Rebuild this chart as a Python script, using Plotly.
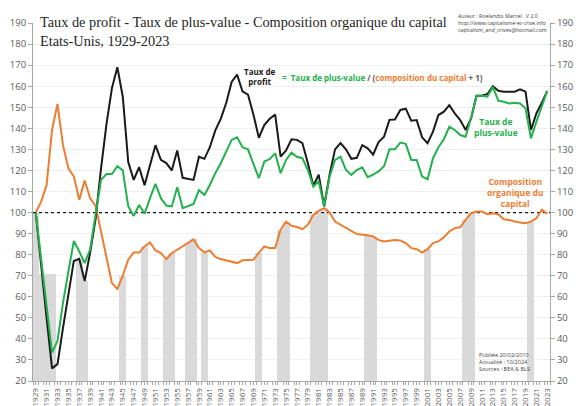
import plotly.graph_objects as go

years = list(range(1929, 2024))

# Taux de profit (indice 1929 = 100)
profit_rate = [
    100, 74, 50, 26, 28, 45, 62, 77, 78, 67.5,
    81, 97, 121, 142, 159, 169, 155, 124, 115.5, 121.5,
    113, 122, 132, 125, 123.5, 120, 129.5, 116.5, 116, 115.5,
    126.5, 125.5, 131, 139, 144.5, 152, 162, 165.5, 157.5, 156,
    146.5, 135.5, 141.5, 144.5, 146.5, 126.5, 129.5, 134.8, 134.5, 133,
    123.5, 112.7, 118, 103, 118, 130, 133, 130, 125.5, 126,
    132, 130.5, 127.5, 133.5, 136, 144, 144.2, 148.7, 149.3, 143.6,
    143.9, 135.7, 132.9, 138.4, 146.3, 147.9, 151, 147.1, 143.9, 139.2,
    144.7, 155.5, 155.5, 156.3, 160, 157.8, 157.4, 157.4, 157.4, 158.5,
    157.4, 139.2, 147.1, 152.1, 157.8,
]

# Taux de plus-value (indice 1929 = 100)
surplus_rate = [
    100, 77, 55, 33.5, 39, 57, 72, 86.5, 81.5, 76,
    82.5, 99, 115.5, 118.3, 118.3, 122, 120, 103, 98.4, 103.6,
    99.4, 106.8, 113.6, 106.8, 103.3, 102.9, 112, 102.1, 103, 104.1,
    110.6, 108.4, 113.1, 118.7, 123.4, 128.9, 134.5, 135.7, 131, 130,
    123.4, 116.3, 124.2, 125.4, 128.1, 118.7, 125, 128.4, 126.5, 125.8,
    120.2, 112.3, 115, 102.8, 117, 125, 126.5, 120.2, 117.9, 120.2,
    121.5, 116.8, 118, 119.5, 122, 130, 130, 133.2, 132.6, 125,
    125, 117.1, 115.8, 125.8, 131, 134.8, 140.8, 139.2, 136.8, 136,
    145, 155.5, 155.5, 155, 159.7, 153.1, 152.6, 151.8, 152.1, 151.8,
    149.5, 135.2, 143.1, 150.3, 157.8,
]

# Composition organique du capital (indice 1929 = 100)
organic_comp = [
    100, 105.2, 113.1, 139.2, 151.5, 132.1, 121, 117.1, 106, 115.2,
    106.8, 103.2, 91, 79, 66.5, 63.7, 70, 77.6, 81, 81,
    83.9, 85.8, 82, 80.7, 77.9, 80.7, 82.3, 83.9, 85.5, 87.2,
    83.1, 81, 82, 78.9, 77.9, 77.3, 76.6, 76, 77.3, 77.6,
    77.6, 80.8, 83.9, 83.1, 83.1, 91.8, 95.7, 93.7, 93.1, 92.1,
    94.2, 98.9, 100.8, 102.1, 100, 95.7, 94.2, 92.6, 91, 89.8,
    89.4, 89.2, 88.6, 87, 86.3, 86.7, 87, 86.7, 85.5, 83.1,
    82.6, 81, 82.6, 85.5, 86.3, 88.3, 91, 92.6, 93, 96.5,
    99.7, 100.5, 100.5, 99.2, 99.7, 99.2, 96.8, 96.5, 95.7, 95.3,
    94.9, 95.7, 97.3, 101.3, 99.4,
]

# Années de récession (barres grises)
recession_years = [1929, 1930, 1931, 1932, 1937, 1938, 1945, 1949, 1953, 1954,
                   1957, 1958, 1960, 1970, 1974, 1975, 1980, 1981, 1982, 1990,
                   1991, 2001, 2008, 2009, 2020]
recession_height = [100, 71, 71, 71, 78, 67.5, 70, 83.9, 77.9, 80.7,
                    85.5, 87.2, 81, 80.8, 91.8, 95.7, 98.9, 100.8, 102.1, 89.2,
                    88.6, 82.6, 96.5, 99.7, 95.7]

y_ticks = list(range(20, 191, 10))
x_ticks = list(range(1929, 2024, 2))

BLACK = "#1a1a1a"
GREEN = "#22b14c"
ORANGE = "#ed7d31"
GRAY_TXT = "#595959"

fig = go.Figure()

fig.add_trace(go.Bar(
    x=recession_years, y=recession_height, width=1.3,
    marker=dict(color="#d9d9d9", line=dict(width=0)),
    hoverinfo="skip", showlegend=False,
))

fig.add_trace(go.Scatter(
    x=[years[0] - 0.5, years[-1] + 0.5], y=[100, 100], mode="lines",
    line=dict(color=BLACK, width=1.3, dash="dot"), showlegend=False,
))

fig.add_trace(go.Scatter(x=years, y=organic_comp, mode="lines",
                         line=dict(color=ORANGE, width=2), showlegend=False))
fig.add_trace(go.Scatter(x=years, y=profit_rate, mode="lines",
                         line=dict(color=BLACK, width=2), showlegend=False))
fig.add_trace(go.Scatter(x=years, y=surplus_rate, mode="lines",
                         line=dict(color=GREEN, width=2), showlegend=False))

# invisible trace to carry the right-hand axis
fig.add_trace(go.Scatter(x=[years[0]], y=[100], yaxis="y2", mode="markers",
                         marker=dict(opacity=0), hoverinfo="skip", showlegend=False))

yaxis_common = dict(
    range=[20, 190], tickvals=y_ticks, ticks="outside", ticklen=4,
    tickcolor="#a6a6a6", showline=True, linecolor="#a6a6a6", linewidth=1,
    tickfont=dict(family="Open Sans", size=9.5, color=GRAY_TXT),
    zeroline=False,
)

fig.update_layout(
    width=576, height=406,
    margin=dict(l=33, r=26, t=23, b=24.5, autoexpand=False),
    paper_bgcolor="white", plot_bgcolor="white",
    bargap=0,
    xaxis=dict(
        range=[1928.5, 2023.5], tickvals=x_ticks, ticktext=[str(y) for y in x_ticks],
        tickangle=-90, ticks="outside", ticklen=3, tickcolor="#a6a6a6",
        showline=True, linecolor="#a6a6a6", showgrid=False, zeroline=False,
        tickfont=dict(family="Open Sans", size=8, color=GRAY_TXT),
        minor=dict(ticks="outside", ticklen=3, tickcolor="#a6a6a6", dtick=1, tick0=1928.5),
        automargin=False,
    ),
    yaxis=dict(**yaxis_common, showgrid=True, gridcolor="#efefef", gridwidth=1,
               automargin=False),
    yaxis2=dict(**yaxis_common, overlaying="y", side="right", showgrid=False,
                automargin=False),
)

fig.add_annotation(
    xref="paper", yref="paper", x=0.01, y=1.032, xanchor="left", yanchor="top",
    text="Taux de profit - Taux de plus-value - Composition organique du capital<br>Etats-Unis, 1929-2023",
    showarrow=False, align="left",
    font=dict(family="Liberation Serif", size=14.3, color="#262626"),
)

fig.add_annotation(
    xref="paper", yref="paper", x=0.818, y=1.036, xanchor="left", yanchor="top",
    text="Auteur : Roelandts Marcel   V 2.0<br>http://www.capitalisme-et-crise.info<br>capitalism_and_crises@hotmail.com",
    showarrow=False, align="left",
    font=dict(family="Open Sans", size=5.3, color="#404040"),
)

fig.add_annotation(
    x=1970.2, y=164.8, text="<b>Taux de<br>profit</b>", showarrow=False,
    font=dict(family="Open Sans", size=8, color=BLACK), align="center",
)
fig.add_annotation(
    x=1973.9, y=164.3, xanchor="left",
    text=("<b><span style='color:%s'>=  Taux de plus-value</span>"
          " <span style='color:#595959'>/ (</span>"
          "<span style='color:%s'>composition du capital</span>"
          " <span style='color:#595959'>+ 1)</span></b>") % (GREEN, ORANGE),
    showarrow=False, font=dict(family="Open Sans", size=8),
)
fig.add_annotation(
    x=2013.6, y=140.8, text="<b>Taux de<br>plus-value</b>", showarrow=False,
    font=dict(family="Open Sans", size=8.5, color=GREEN), align="center",
)
fig.add_annotation(
    x=2017.1, y=109.5, text="<b>Composition<br>organique du<br>capital</b>", showarrow=False,
    font=dict(family="Open Sans", size=8.5, color=ORANGE), align="center",
)
fig.add_annotation(
    x=2010, y=28.8, xanchor="left",
    text="Publiée 20/02/2010<br>Actualisé : 10/2024<br>Sources : BEA & BLS",
    showarrow=False, align="left",
    font=dict(family="Open Sans", size=5.5, color="#404040"),
)

fig.write_html("out.html")
